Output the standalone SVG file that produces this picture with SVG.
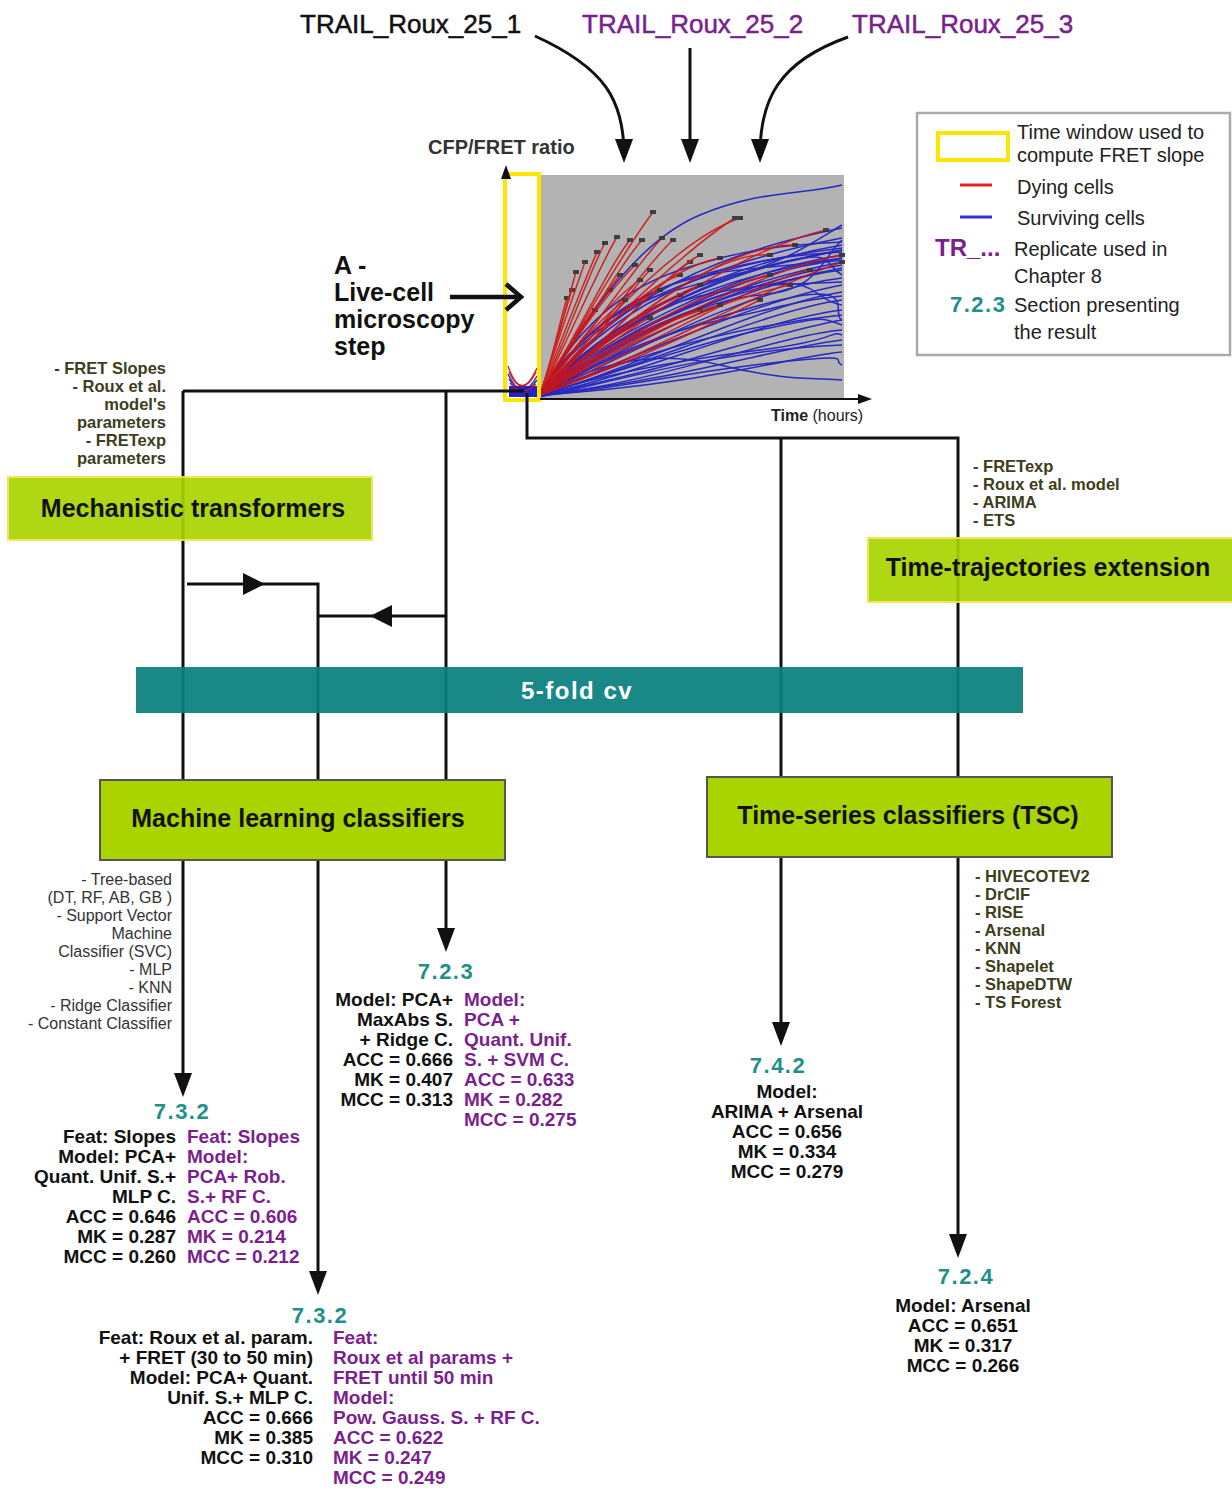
<svg xmlns="http://www.w3.org/2000/svg" width="1232" height="1488" viewBox="0 0 1232 1488">
<defs>
<style>
text{font-family:"Liberation Sans",Arial,sans-serif}
.b{font-weight:bold}
.blk{fill:#111}
.pur{fill:#7b1f8e}
.tea{fill:#1f8f8a;font-weight:bold;font-size:22px;letter-spacing:1.5px}
.res{font-size:19px;font-weight:bold}
.ol{font-size:16.5px;font-weight:bold;fill:#3d3d1a}
.gl{font-size:16px;fill:#333}
.box{fill:#aad400}
.ybd{stroke:#f0e44a;stroke-width:2}
.gbd{stroke:#555;stroke-width:2}
.bt{font-size:25px;font-weight:bold;fill:#111}
.con{fill:none;stroke:#111;stroke-width:3}
.bl{fill:none;stroke:#1a1ac4;stroke-width:1.5;opacity:.9}
.rd{fill:none;stroke:#cf1414;stroke-width:1.5;opacity:.9}
.leg{font-size:20px;fill:#222}
.top{font-size:26px;stroke-width:0.5}
</style>
<marker id="ah" markerUnits="userSpaceOnUse" markerWidth="24" markerHeight="18" refX="16" refY="9" orient="auto" viewBox="0 0 24 18"><path d="M0,0 L24,9 L0,18 z" fill="#111"/></marker>
<marker id="ahs" markerUnits="userSpaceOnUse" markerWidth="14" markerHeight="10" refX="8" refY="5" orient="auto" viewBox="0 0 14 10"><path d="M0,0 L14,5 L0,10 z" fill="#111"/></marker>
<marker id="dm" markerUnits="userSpaceOnUse" markerWidth="6" markerHeight="4" refX="3" refY="2" viewBox="0 0 6 4"><rect width="6" height="4" fill="#333"/></marker>
</defs>
<rect width="1232" height="1488" fill="#fff"/>

<g id="src1"><text class="top blk" stroke="#111" x="300" y="33">TRAIL_Roux_25_1</text></g>
<g id="src2"><text class="top pur" stroke="#7b1f8e" x="582" y="33">TRAIL_Roux_25_2</text></g>
<g id="src3"><text class="top pur" stroke="#7b1f8e" x="852" y="33">TRAIL_Roux_25_3</text></g>

<g id="plot">
<rect x="540" y="175" width="304" height="223" fill="#b3b3b3"/>
<rect x="505" y="174" width="34" height="226" fill="#fff"/>
<g class="bl">
<path d="M540,395 C590,310 640,240 700,215 S800,195 842,185"/>
<path d="M540,395 C600,320 680,260 842,228"/>
<path d="M540,395 C610,310 700,265 842,238"/>
<path d="M540,395 C600,330 700,270 842,245"/>
<path d="M540,395 C620,320 720,270 842,250"/>
<path d="M540,395 C600,340 720,275 842,255"/>
<path d="M540,395 C630,330 740,270 842,260"/>
<path d="M540,395 C610,350 720,285 842,265"/>
<path d="M540,395 C640,340 750,280 842,270"/>
<path d="M540,395 C620,360 740,290 842,278"/>
<path d="M540,395 C650,350 760,300 842,285"/>
<path d="M540,395 C630,370 760,305 842,292"/>
<path d="M540,395 C660,360 770,310 842,300"/>
<path d="M540,395 C640,375 760,320 842,310"/>
<path d="M540,395 C670,370 780,330 842,320"/>
<path d="M540,395 C650,385 780,335 842,330"/>
<path d="M540,395 C680,380 790,345 842,340"/>
<path d="M540,395 C700,385 800,355 842,352"/>
<path d="M540,395 C600,360 660,350 720,365 S810,378 842,380"/>
<path d="M540,395 C620,340 700,300 760,295 S820,260 842,240"/>
<path d="M540,395 C580,350 650,300 720,280 S800,250 842,225"/>
<path d="M540,395 C600,340 680,290 760,268 S820,262 842,275"/>
<path d="M540,395 C590,355 660,310 740,290 S810,300 842,305"/>
<path d="M540,395 C620,350 700,320 780,300 S830,315 842,320"/>
<path d="M540,395 C580,330 660,270 842,248"/>
<path d="M540,395 C590,340 690,280 842,258"/>
<path d="M540,395 C600,345 700,290 842,262"/>
<path d="M540,395 C570,340 640,290 700,275 S790,255 842,252"/>
<path d="M540,395 C575,330 620,290 680,270 S780,245 842,242"/>
<path d="M540,395 C600,370 700,330 842,315"/>
<path d="M540,397 C620,380 720,350 842,345"/>
<path d="M540,396 C600,350 680,300 842,268"/>
<path d="M540,395 C570,345 620,300 680,282 S780,270 842,258"/>
<path d="M540,395 C585,350 640,310 700,296 S790,285 842,282"/>
<path d="M540,395 C590,365 650,335 720,320 S800,300 842,296"/>
<path d="M540,395 C610,375 690,345 760,330 S820,318 842,325"/>
<path d="M540,395 C565,350 610,310 660,295 S770,265 842,250"/>
<path d="M540,395 C600,375 680,360 760,350 S830,330 842,335"/>
<path d="M540,396 C620,388 700,370 780,362 S830,360 842,365"/>
</g>
<g class="rd" marker-end="url(#dm)">
<path d="M540,395 C555,350 560,320 567,298"/>
<path d="M540,395 C556,345 565,310 572,290"/>
<path d="M540,395 C558,340 568,300 576,272"/>
<path d="M540,395 C560,335 575,290 585,262"/>
<path d="M540,395 C565,330 585,280 597,252"/>
<path d="M540,395 C570,330 590,270 605,243"/>
<path d="M540,395 C575,325 600,265 617,237"/>
<path d="M540,395 C585,320 610,265 630,240"/>
<path d="M540,395 C590,320 620,265 642,240"/>
<path d="M540,395 C590,310 625,250 653,212"/>
<path d="M540,395 C600,320 640,260 662,238"/>
<path d="M540,395 C610,320 650,260 673,240"/>
<path d="M540,395 C600,340 630,290 650,270"/>
<path d="M540,395 C610,340 650,290 690,262"/>
<path d="M540,395 C620,330 670,270 700,255"/>
<path d="M540,395 C620,300 690,235 740,218"/>
<path d="M540,395 C630,300 700,240 735,218"/>
<path d="M540,395 C650,300 730,245 795,245"/>
<path d="M540,395 C640,320 740,250 826,230"/>
<path d="M540,395 C650,330 760,270 842,255"/>
<path d="M540,395 C660,340 760,280 810,270"/>
<path d="M540,395 C630,340 720,300 790,285"/>
<path d="M540,395 C600,350 660,320 700,310"/>
<path d="M540,395 C650,355 720,320 760,300"/>
<path d="M540,395 C580,360 620,330 650,318"/>
<path d="M540,395 C570,345 590,310 610,290"/>
<path d="M540,395 C600,330 650,285 680,275"/>
<path d="M540,395 C580,340 610,300 640,280"/>
<path d="M540,395 C585,345 625,305 660,290"/>
<path d="M540,395 C590,350 640,310 680,295"/>
<path d="M540,395 C600,355 660,320 720,305"/>
<path d="M540,395 C600,345 660,300 700,285"/>
<path d="M540,395 C570,350 600,320 625,300"/>
<path d="M540,395 C560,355 580,330 595,310"/>
<path d="M540,395 C575,335 600,300 620,275"/>
<path d="M540,395 C580,330 610,290 635,265"/>
<path d="M540,395 C600,330 660,270 720,258"/>
<path d="M540,395 C620,340 700,290 770,275"/>
<path d="M540,395 C660,350 760,290 842,262"/>
<path d="M540,395 C640,310 720,250 770,255"/>
</g>
<g>
<rect x="509" y="386" width="28" height="11" fill="#2424c8"/>
<path class="rd" d="M508,366 Q521,404 537,368"/>
<path class="rd" d="M509,372 Q522,400 536,372"/>
<path class="bl" d="M508,374 Q522,404 537,376"/>
<path class="bl" d="M509,379 Q522,402 537,380"/>
<path class="rd" d="M510,383 Q522,398 536,384"/>
</g>
<rect x="505" y="174" width="34" height="226" fill="none" stroke="#ffe600" stroke-width="4"/>
<path class="con" d="M540,399 L866,399" marker-end="url(#ahs)" style="stroke-width:2"/>
<path class="con" d="M506,174 L506,171" marker-end="url(#ahs)" style="stroke-width:2"/>
<text x="428" y="154" font-size="20" class="b" fill="#333">CFP/FRET ratio</text>
<text x="771" y="421" font-size="16" fill="#222"><tspan class="b">Time</tspan> (hours)</text>
</g>

<g id="live-cell">
<text class="b blk" font-size="25"><tspan x="334" y="274">A -</tspan><tspan x="334" y="301">Live-cell</tspan><tspan x="334" y="328">microscopy</tspan><tspan x="334" y="355">step</tspan></text>
<path d="M450,297 L521,297 M506,284 L521,297 L506,310" fill="none" stroke="#111" stroke-width="4.5"/>
</g>

<g id="legend">
<rect x="917" y="113" width="313" height="242" fill="#fff" stroke="#aaa" stroke-width="2.5"/>
<rect x="938" y="133" width="70" height="27" fill="none" stroke="#ffe600" stroke-width="4"/>
<text class="leg" x="1017" y="139">Time window used to</text>
<text class="leg" x="1017" y="162">compute FRET slope</text>
<line x1="960" y1="185" x2="992" y2="185" stroke="#e82020" stroke-width="3"/>
<text class="leg" x="1017" y="194">Dying cells</text>
<line x1="960" y1="217" x2="992" y2="217" stroke="#3030e0" stroke-width="3"/>
<text class="leg" x="1017" y="225">Surviving cells</text>
<text class="b pur" x="935" y="256" font-size="24">TR_...</text>
<text class="leg" x="1014" y="256">Replicate used in</text>
<text class="leg" x="1014" y="283">Chapter 8</text>
<text class="tea" x="950" y="312">7.2.3</text>
<text class="leg" x="1014" y="312">Section presenting</text>
<text class="leg" x="1014" y="339">the result</text>
</g>

<g id="connectors">
<path class="con" d="M535,36 C605,68 624,100 624,155" marker-end="url(#ah)"/>
<path class="con" d="M690,48 L690,155" marker-end="url(#ah)"/>
<path class="con" d="M848,37 C778,62 760,100 760,155" marker-end="url(#ah)"/>
<path class="con" d="M183,391 L524,391"/>
<path class="con" d="M183,391 L183,1089" marker-end="url(#ah)"/>
<path class="con" d="M446,391 L446,944" marker-end="url(#ah)"/>
<path class="con" d="M187,584 L318,584 L318,1287" marker-end="url(#ah)"/>
<polygon points="243,573 265,584 243,595" fill="#111"/>
<path class="con" d="M446,616 L318,616"/>
<polygon points="392,605 370,616 392,627" fill="#111"/>
<path class="con" d="M527,393 L527,438 L958,438 L958,1250" marker-end="url(#ah)"/>
<path class="con" d="M781,438 L781,1038" marker-end="url(#ah)"/>
</g>

<g id="mech">
<rect class="box ybd" x="8" y="477" width="364" height="63" opacity="0.92"/>
<text class="bt" x="193" y="517" text-anchor="middle">Mechanistic transformers</text>
<text class="ol" text-anchor="end"><tspan x="166" y="374">- FRET Slopes</tspan><tspan x="166" y="392">- Roux et al.</tspan><tspan x="166" y="410">model's</tspan><tspan x="166" y="428">parameters</tspan><tspan x="166" y="446">- FRETexp</tspan><tspan x="166" y="464">parameters</tspan></text>
</g>

<g id="ttext">
<rect class="box ybd" x="868" y="538" width="366" height="64" opacity="0.92"/>
<text class="bt" x="1048" y="576" text-anchor="middle">Time-trajectories extension</text>
<text class="ol"><tspan x="973" y="472">- FRETexp</tspan><tspan x="973" y="490">- Roux et al. model</tspan><tspan x="973" y="508">- ARIMA</tspan><tspan x="973" y="526">- ETS</tspan></text>
</g>

<g id="cv">
<rect x="136" y="667" width="887" height="46" fill="#0a7f7f" opacity="0.93"/>
<text x="577" y="699" text-anchor="middle" font-size="24" class="b" fill="#fff" letter-spacing="1.5">5-fold cv</text>
</g>

<g id="ml">
<rect class="box gbd" x="100" y="780" width="405" height="80"/>
<text class="bt" x="298" y="827" text-anchor="middle">Machine learning classifiers</text>
<text class="gl" text-anchor="end"><tspan x="172" y="885">- Tree-based</tspan><tspan x="172" y="903">(DT, RF, AB, GB )</tspan><tspan x="172" y="921">- Support Vector</tspan><tspan x="172" y="939">Machine</tspan><tspan x="172" y="957">Classifier (SVC)</tspan><tspan x="172" y="975">- MLP</tspan><tspan x="172" y="993">- KNN</tspan><tspan x="172" y="1011">- Ridge Classifier</tspan><tspan x="172" y="1029">- Constant Classifier</tspan></text>
</g>

<g id="tsc">
<rect class="box gbd" x="707" y="777" width="405" height="80"/>
<text class="bt" x="908" y="824" text-anchor="middle">Time-series classifiers (TSC)</text>
<text class="ol"><tspan x="975" y="882">- HIVECOTEV2</tspan><tspan x="975" y="900">- DrCIF</tspan><tspan x="975" y="918">- RISE</tspan><tspan x="975" y="936">- Arsenal</tspan><tspan x="975" y="954">- KNN</tspan><tspan x="975" y="972">- Shapelet</tspan><tspan x="975" y="990">- ShapeDTW</tspan><tspan x="975" y="1008">- TS Forest</tspan></text>
</g>

<g id="r723">
<text class="tea" x="446" y="979" text-anchor="middle">7.2.3</text>
<text class="res blk" text-anchor="end"><tspan x="453" y="1006">Model: PCA+</tspan><tspan x="453" y="1026">MaxAbs S.</tspan><tspan x="453" y="1046">+ Ridge C.</tspan><tspan x="453" y="1066">ACC = 0.666</tspan><tspan x="453" y="1086">MK = 0.407</tspan><tspan x="453" y="1106">MCC = 0.313</tspan></text>
<text class="res pur"><tspan x="464" y="1006">Model:</tspan><tspan x="464" y="1026">PCA +</tspan><tspan x="464" y="1046">Quant. Unif.</tspan><tspan x="464" y="1066">S. + SVM C.</tspan><tspan x="464" y="1086">ACC = 0.633</tspan><tspan x="464" y="1106">MK = 0.282</tspan><tspan x="464" y="1126">MCC = 0.275</tspan></text>
</g>

<g id="r732a">
<text class="tea" x="182" y="1119" text-anchor="middle">7.3.2</text>
<text class="res blk" text-anchor="end"><tspan x="176" y="1143">Feat: Slopes</tspan><tspan x="176" y="1163">Model: PCA+</tspan><tspan x="176" y="1183">Quant. Unif. S.+</tspan><tspan x="176" y="1203">MLP C.</tspan><tspan x="176" y="1223">ACC = 0.646</tspan><tspan x="176" y="1243">MK = 0.287</tspan><tspan x="176" y="1263">MCC = 0.260</tspan></text>
<text class="res pur"><tspan x="187" y="1143">Feat: Slopes</tspan><tspan x="187" y="1163">Model:</tspan><tspan x="187" y="1183">PCA+ Rob.</tspan><tspan x="187" y="1203">S.+ RF C.</tspan><tspan x="187" y="1223">ACC = 0.606</tspan><tspan x="187" y="1243">MK = 0.214</tspan><tspan x="187" y="1263">MCC = 0.212</tspan></text>
</g>

<g id="r732b">
<text class="tea" x="320" y="1323" text-anchor="middle">7.3.2</text>
<text class="res blk" text-anchor="end"><tspan x="313" y="1344">Feat: Roux et al. param.</tspan><tspan x="313" y="1364">+ FRET (30 to 50 min)</tspan><tspan x="313" y="1384">Model: PCA+ Quant.</tspan><tspan x="313" y="1404">Unif. S.+ MLP C.</tspan><tspan x="313" y="1424">ACC = 0.666</tspan><tspan x="313" y="1444">MK = 0.385</tspan><tspan x="313" y="1464">MCC = 0.310</tspan></text>
<text class="res pur"><tspan x="333" y="1344">Feat:</tspan><tspan x="333" y="1364">Roux et al params +</tspan><tspan x="333" y="1384">FRET until 50 min</tspan><tspan x="333" y="1404">Model:</tspan><tspan x="333" y="1424">Pow. Gauss. S. + RF C.</tspan><tspan x="333" y="1444">ACC = 0.622</tspan><tspan x="333" y="1464">MK = 0.247</tspan><tspan x="333" y="1484">MCC = 0.249</tspan></text>
</g>

<g id="r742">
<text class="tea" x="778" y="1073" text-anchor="middle">7.4.2</text>
<text class="res blk" text-anchor="middle"><tspan x="787" y="1098">Model:</tspan><tspan x="787" y="1118">ARIMA + Arsenal</tspan><tspan x="787" y="1138">ACC = 0.656</tspan><tspan x="787" y="1158">MK = 0.334</tspan><tspan x="787" y="1178">MCC = 0.279</tspan></text>
</g>

<g id="r724">
<text class="tea" x="966" y="1284" text-anchor="middle">7.2.4</text>
<text class="res blk" text-anchor="middle"><tspan x="963" y="1312">Model: Arsenal</tspan><tspan x="963" y="1332">ACC = 0.651</tspan><tspan x="963" y="1352">MK = 0.317</tspan><tspan x="963" y="1372">MCC = 0.266</tspan></text>
</g>
</svg>
